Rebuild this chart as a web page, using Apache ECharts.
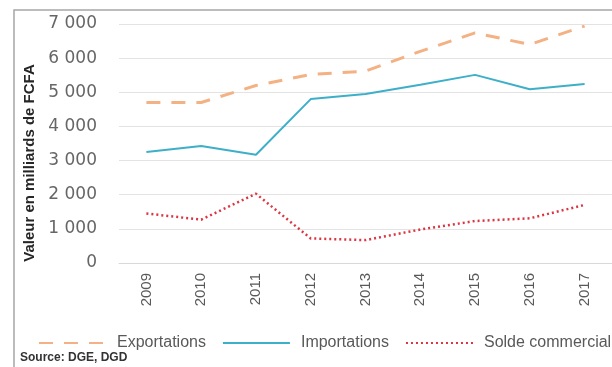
<!DOCTYPE html>
<html>
<head>
<meta charset="utf-8">
<script src="https://cdn.jsdelivr.net/npm/echarts@6/dist/echarts.min.js"></script>
<style>
  html, body { margin: 0; padding: 0; background: #fff; }
  #chart { width: 612px; height: 367px; }
</style>
</head>
<body>
<div id="chart"></div>
<script>
// Trade balance, in billions of FCFA
const years = ['2009', '2010', '2011', '2012', '2013', '2014', '2015', '2016', '2017'];
const exportations = [4700, 4700, 5200, 5520, 5620, 6200, 6740, 6400, 6940];
const importations = [3250, 3430, 3170, 4800, 4950, 5220, 5510, 5090, 5240];
const soldeCommercial = [1450, 1270, 2030, 720, 670, 980, 1230, 1310, 1700];
const yTicks = [0, 1000, 2000, 3000, 4000, 5000, 6000, 7000];

const grey = '#595959';
const chart = echarts.init(document.getElementById('chart'));

// thousands separated by a space
function fmt(v) {
  return v >= 1000 ? Math.floor(v / 1000) + ' ' + String(v % 1000).padStart(3, '0') : String(v);
}

chart.setOption({
  animation: false,
  grid: { left: 119, right: 0, top: 24, bottom: 104 },
  xAxis: {
    type: 'category',
    data: years,
    axisLine: { show: true, lineStyle: { color: '#d9d9d9' } },
    axisTick: { show: false },
    axisLabel: { rotate: 90, color: grey, fontSize: 15, fontFamily: 'Liberation Sans', margin: 10 }
  },
  yAxis: {
    type: 'value',
    min: yTicks[0],
    max: yTicks[yTicks.length - 1],
    interval: 1000,
    axisLine: { show: false },
    axisTick: { show: false },
    splitLine: { lineStyle: { color: '#e3e3e3', width: 1 } },
    axisLabel: { color: '#666', fontSize: 17, fontFamily: 'DejaVu Sans', margin: 22, formatter: fmt }
  },
  legend: {
    left: 33,
    top: 330,
    width: 1000,
    itemWidth: 67,
    itemHeight: 10,
    itemGap: 16,
    itemStyle: { opacity: 0 },
    textStyle: { color: grey, fontSize: 16, fontFamily: 'Liberation Sans', padding: [0, 0, 0, 6] },
    data: ['Exportations', 'Importations', 'Solde commercial']
  },
  series: [
    {
      name: 'Exportations',
      type: 'line',
      data: exportations,
      symbol: 'none',
      lineStyle: { color: '#F4B183', width: 3, type: [14, 11] },
      itemStyle: { color: '#F4B183' }
    },
    {
      name: 'Importations',
      type: 'line',
      data: importations,
      symbol: 'none',
      lineStyle: { color: '#3DAFC8', width: 2 },
      itemStyle: { color: '#3DAFC8' }
    },
    {
      name: 'Solde commercial',
      type: 'line',
      data: soldeCommercial,
      symbol: 'none',
      lineStyle: { color: '#DC3542', width: 2.5, type: [2, 3] },
      itemStyle: { color: '#DC3542' }
    }
  ],
  graphic: [
    {
      type: 'polyline',
      shape: { points: [[14, 367], [14, 10], [612, 10]] },
      style: { stroke: '#a6a6a6', lineWidth: 1.5, fill: null },
      silent: true
    },
    {
      type: 'text',
      x: 30,
      y: 163,
      rotation: Math.PI / 2,
      style: {
        text: 'Valeur en milliards de FCFA',
        font: 'bold 15px "Liberation Sans"',
        fill: '#262626',
        align: 'center',
        verticalAlign: 'middle'
      }
    },
    {
      type: 'text',
      x: 20,
      y: 358,
      style: {
        text: 'Source: DGE, DGD',
        font: 'bold 12px "Liberation Sans"',
        fill: '#333',
        verticalAlign: 'middle'
      }
    }
  ]
});
</script>
</body>
</html>
